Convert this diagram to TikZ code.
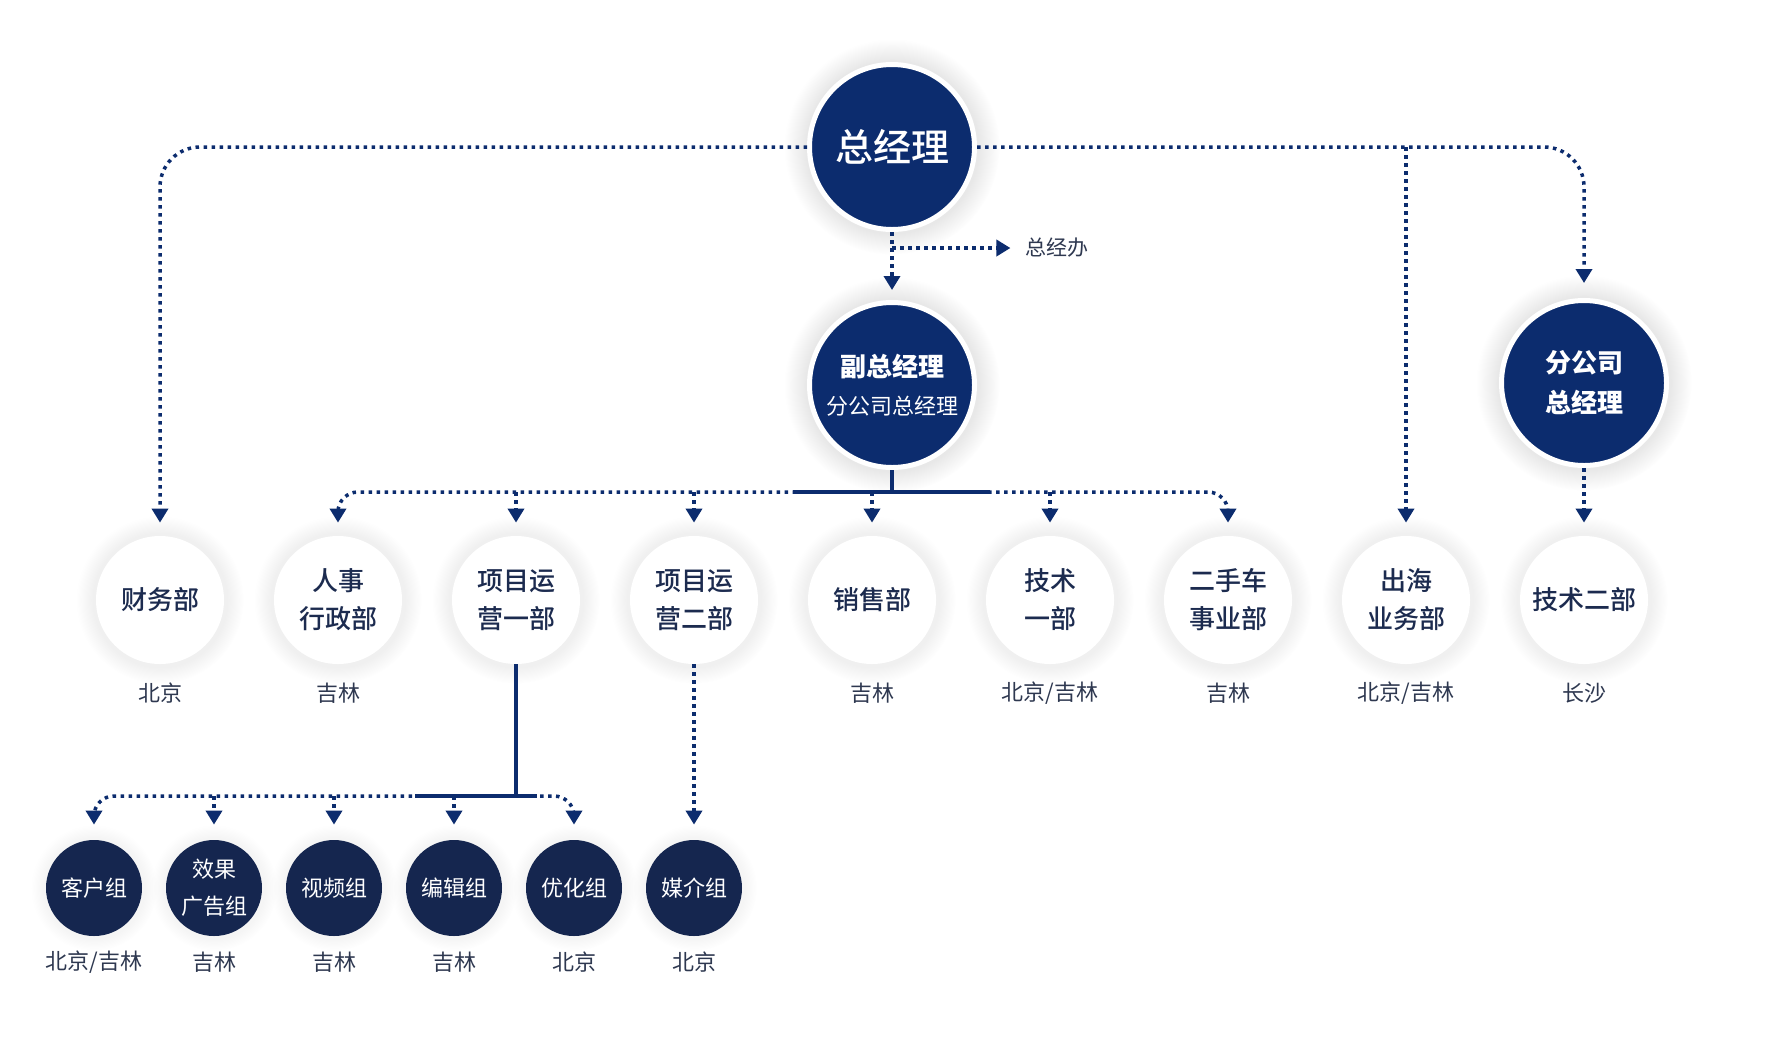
\documentclass[tikz,border=0pt]{standalone}
\usepackage{fontspec}
\setmainfont{Noto Sans CJK SC}
\newfontfamily\medfont{Noto Sans CJK SC Medium}
\usetikzlibrary{arrows.meta,shadows,fadings}
\definecolor{navy}{HTML}{0C2C6E}
\definecolor{teamnavy}{HTML}{15264F}
\definecolor{depttext}{HTML}{1C2B4F}
\definecolor{placetext}{HTML}{2E3850}
\begin{document}
\begin{tikzpicture}[
  x=0.5pt, y=-0.5pt,
  glow/.style={circular glow={fill=black!#1, shadow scale=1.3, path fading=circle with fuzzy edge 20 percent}},
  boss/.style={circle, fill=navy, draw=white, line width=2.5pt, text=white, align=center, minimum size=82.5pt, inner sep=0pt, glow=9},
  dept/.style={circle, fill=white, text=depttext, align=center, minimum size=64pt, inner sep=0pt, font=\fontsize{13}{19}\selectfont\medfont, glow=6},
  team/.style={circle, fill=teamnavy, text=white, align=center, minimum size=48pt, inner sep=0pt, font=\fontsize{11}{18.5}\selectfont, glow=4},
  place/.style={text=placetext, font=\fontsize{11}{13}\selectfont},
  dotline/.style={draw=navy, line width=1.75pt, dash pattern=on 1.75pt off 2.25pt, rounded corners=10pt},
  bar/.style={draw=navy, line width=2pt},
  arrow/.style={-{Triangle[width=8pt,length=7pt]}, shorten >=6.5pt}
]
\fill[white] (0,0) rectangle (1776,1040);

\node[boss, font=\fontsize{19}{23}\selectfont\medfont] (gm) at (892,147) {总经理};
\node[boss] (vgm) at (892,385) {\fontsize{13}{16}\selectfont\bfseries 副总经理\\[7pt]\fontsize{11}{14}\selectfont 分公司总经理};
\node[boss, font=\fontsize{13}{20}\selectfont\bfseries] (sub) at (1584,383) {分公司\\总经理};
\node[place, font=\fontsize{10.5}{12}\selectfont] (office) at (1057,248) {总经办};

\node[dept] (fin) at (160,600) {财务部};
\node[dept] (hr) at (338,600) {人事\\行政部};
\node[dept] (ops1) at (516,600) {项目运\\营一部};
\node[dept] (ops2) at (694,600) {项目运\\营二部};
\node[dept] (sales) at (872,600) {销售部};
\node[dept] (tech1) at (1050,600) {技术\\一部};
\node[dept] (car) at (1228,600) {二手车\\事业部};
\node[dept] (sea) at (1406,600) {出海\\业务部};
\node[dept] (tech2) at (1584,600) {技术二部};

\node[place] (fin-p) at (160,693) {北京};
\node[place] (hr-p) at (338,693) {吉林};
\node[place] (sales-p) at (872,693) {吉林};
\node[place] (tech1-p) at (1050,693) {北京/吉林};
\node[place] (car-p) at (1228,693) {吉林};
\node[place] (sea-p) at (1406,693) {北京/吉林};
\node[place] (tech2-p) at (1584,693) {长沙};

\node[team] (client) at (94,888) {客户组};
\node[team] (ads) at (214,888) {效果\\广告组};
\node[team] (video) at (334,888) {视频组};
\node[team] (edit) at (454,888) {编辑组};
\node[team] (seo) at (574,888) {优化组};
\node[team] (media) at (694,888) {媒介组};

\node[place] (client-p) at (94,962) {北京/吉林};
\node[place] (ads-p) at (214,962) {吉林};
\node[place] (video-p) at (334,962) {吉林};
\node[place] (edit-p) at (454,962) {吉林};
\node[place] (seo-p) at (574,962) {北京};
\node[place] (media-p) at (694,962) {北京};

\coordinate (split) at (892,248);
\coordinate (hub) at (892,492);
\coordinate (hub2) at (516,796);

\draw[dotline, arrow, rounded corners=20pt] (gm.west) -| (fin.north);
\draw[dotline, arrow, rounded corners=20pt, shorten >=7.5pt] (gm.east) -| (sub.north);
\draw[dotline, arrow] (gm.east -| sea.north) -- (sea.north);
\draw[dotline, arrow] (sub.south) -- (tech2.north);
\draw[dotline, arrow, shorten >=5pt] (gm.south) -- (vgm.north);
\draw[dotline, arrow, shorten >=4pt] (split) -- (office.west);

\draw[dotline, arrow] (hub) -| (hr.north);
\draw[dotline, arrow] (hub) -| (car.north);
\draw[dotline, arrow] (ops1.north |- hub) -- (ops1.north);
\draw[dotline, arrow] (ops2.north |- hub) -- (ops2.north);
\draw[dotline, arrow] (sales.north |- hub) -- (sales.north);
\draw[dotline, arrow] (tech1.north |- hub) -- (tech1.north);
\draw[bar] (vgm.south) -- (hub);
\draw[bar] (hub) ++(-99,0) -- ++(197,0);

\draw[dotline, arrow, shorten >=7.5pt] (hub2) -| (client.north);
\draw[dotline, arrow, shorten >=7.5pt] (hub2) -| (seo.north);
\draw[dotline, arrow, shorten >=7.5pt] (ads.north |- hub2) -- (ads.north);
\draw[dotline, arrow, shorten >=7.5pt] (video.north |- hub2) -- (video.north);
\draw[dotline, arrow, shorten >=7.5pt] (edit.north |- hub2) -- (edit.north);
\draw[dotline, arrow, shorten >=7.5pt] (ops2.south) -- (media.north);
\draw[bar] (ops1.south) -- (hub2);
\draw[bar] (hub2) ++(-101,0) -- ++(122,0);
\end{tikzpicture}
\end{document}
